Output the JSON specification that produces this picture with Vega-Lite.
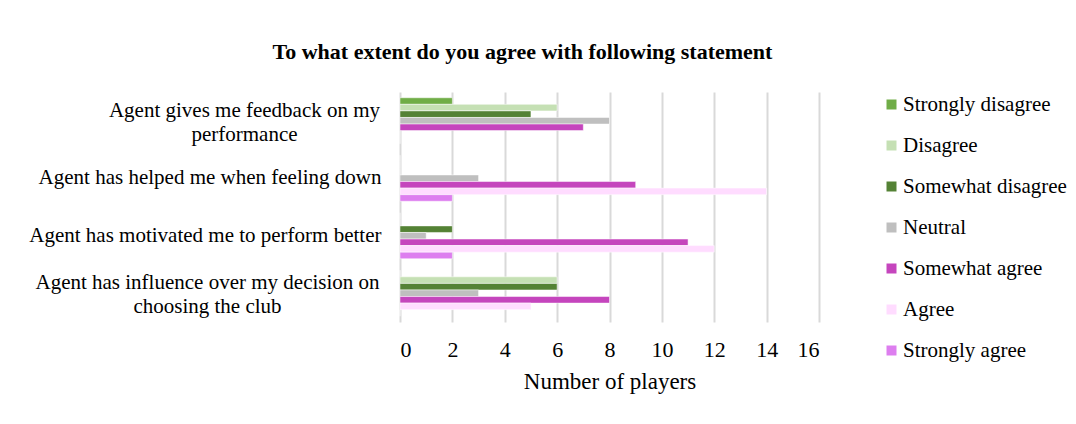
{
  "$schema": "https://vega.github.io/schema/vega-lite/v6.json",
  "autosize": {"type": "none"},
  "width": 419,
  "height": 230,
  "padding": {"left": 400, "top": 92, "right": 257, "bottom": 102},
  "background": "white",
  "title": {
    "text": "To what extent do you agree with following statement",
    "font": "Liberation Serif",
    "fontSize": 22,
    "fontWeight": "bold",
    "color": "#000000",
    "anchor": "middle",
    "frame": "group",
    "dx": -87,
    "offset": 28
  },
  "data": {
    "values": [
      {"statement": "Agent gives me feedback on my performance", "response": "Strongly disagree", "players": 2},
      {"statement": "Agent gives me feedback on my performance", "response": "Disagree", "players": 6},
      {"statement": "Agent gives me feedback on my performance", "response": "Somewhat disagree", "players": 5},
      {"statement": "Agent gives me feedback on my performance", "response": "Neutral", "players": 8},
      {"statement": "Agent gives me feedback on my performance", "response": "Somewhat agree", "players": 7},
      {"statement": "Agent gives me feedback on my performance", "response": "Agree", "players": 0},
      {"statement": "Agent gives me feedback on my performance", "response": "Strongly agree", "players": 0},
      {"statement": "Agent has helped me when feeling down", "response": "Strongly disagree", "players": 0},
      {"statement": "Agent has helped me when feeling down", "response": "Disagree", "players": 0},
      {"statement": "Agent has helped me when feeling down", "response": "Somewhat disagree", "players": 0},
      {"statement": "Agent has helped me when feeling down", "response": "Neutral", "players": 3},
      {"statement": "Agent has helped me when feeling down", "response": "Somewhat agree", "players": 9},
      {"statement": "Agent has helped me when feeling down", "response": "Agree", "players": 14},
      {"statement": "Agent has helped me when feeling down", "response": "Strongly agree", "players": 2},
      {"statement": "Agent has motivated me to perform better", "response": "Strongly disagree", "players": 0},
      {"statement": "Agent has motivated me to perform better", "response": "Disagree", "players": 0},
      {"statement": "Agent has motivated me to perform better", "response": "Somewhat disagree", "players": 2},
      {"statement": "Agent has motivated me to perform better", "response": "Neutral", "players": 1},
      {"statement": "Agent has motivated me to perform better", "response": "Somewhat agree", "players": 11},
      {"statement": "Agent has motivated me to perform better", "response": "Agree", "players": 12},
      {"statement": "Agent has motivated me to perform better", "response": "Strongly agree", "players": 2},
      {"statement": "Agent has influence over my decision on choosing the club", "response": "Strongly disagree", "players": 0},
      {"statement": "Agent has influence over my decision on choosing the club", "response": "Disagree", "players": 6},
      {"statement": "Agent has influence over my decision on choosing the club", "response": "Somewhat disagree", "players": 6},
      {"statement": "Agent has influence over my decision on choosing the club", "response": "Neutral", "players": 3},
      {"statement": "Agent has influence over my decision on choosing the club", "response": "Somewhat agree", "players": 8},
      {"statement": "Agent has influence over my decision on choosing the club", "response": "Agree", "players": 5},
      {"statement": "Agent has influence over my decision on choosing the club", "response": "Strongly agree", "players": 0}
    ]
  },
  "mark": {"type": "bar", "stroke": "white", "strokeWidth": 0.5},
  "encoding": {
    "y": {
      "field": "statement",
      "type": "nominal",
      "sort": null,
      "scale": {"paddingInner": 0.2, "paddingOuter": 0.1},
      "axis": {
        "title": null,
        "domain": false,
        "ticks": false,
        "labelPadding": {"expr": "datum.value == 'Agent gives me feedback on my performance' ? 156 : datum.value == 'Agent has influence over my decision on choosing the club' ? 193 : 19"},
        "labelFont": "Liberation Serif",
        "labelFontSize": 21,
        "labelColor": "#000000",
        "labelLimit": 400,
        "labelLineHeight": 24,
        "labelAlign": {"condition": {"test": "indexof(datum.value, 'performance') >= 0 || indexof(datum.value, 'club') >= 0", "value": "center"}, "value": "right"},
        "labelOffset": {"condition": {"test": "indexof(datum.value, 'performance') >= 0 || indexof(datum.value, 'club') >= 0", "value": -10}, "value": 0},
        "labelExpr": "datum.value == 'Agent gives me feedback on my performance' ? ['Agent gives me feedback on my', 'performance'] : datum.value == 'Agent has influence over my decision on choosing the club' ? ['Agent has influence over my decision on', 'choosing the club'] : datum.value"
      }
    },
    "yOffset": {
      "field": "response",
      "type": "nominal",
      "sort": ["Strongly disagree", "Disagree", "Somewhat disagree", "Neutral", "Somewhat agree", "Agree", "Strongly agree"],
      "scale": {"paddingInner": 0, "paddingOuter": 0}
    },
    "x": {
      "field": "players",
      "type": "quantitative",
      "scale": {"domain": [0, 16], "nice": false},
      "axis": {
        "title": "Number of players",
        "titleFont": "Liberation Serif",
        "titleFontSize": 23,
        "titleFontWeight": "normal",
        "titleColor": "#000000",
        "titlePadding": 10,
        "values": [0, 2, 4, 6, 8, 10, 12, 14, 16],
        "domain": false,
        "ticks": false,
        "labelFont": "Liberation Serif",
        "labelFontSize": 22,
        "labelColor": "#000000",
        "labelPadding": 17,
        "grid": true,
        "gridColor": "#d9d9d9",
        "gridWidth": 2
      }
    },
    "color": {
      "field": "response",
      "type": "nominal",
      "sort": ["Strongly disagree", "Disagree", "Somewhat disagree", "Neutral", "Somewhat agree", "Agree", "Strongly agree"],
      "scale": {
        "domain": ["Strongly disagree", "Disagree", "Somewhat disagree", "Neutral", "Somewhat agree", "Agree", "Strongly agree"],
        "range": ["#70ad47", "#c5e0b4", "#548235", "#bfbfbf", "#c545bd", "#ffdcff", "#dd7eef"]
      },
      "legend": {
        "title": null,
        "orient": "right",
        "offset": 60,
        "padding": 2,
        "symbolType": "square",
        "symbolSize": 100,
        "symbolStrokeWidth": 0,
        "labelFont": "Liberation Serif",
        "labelFontSize": 21,
        "labelColor": "#000000",
        "labelOffset": 1,
        "rowPadding": 19,
        "labelLimit": 300
      }
    }
  },
  "config": {
    "view": {"stroke": null}
  }
}
